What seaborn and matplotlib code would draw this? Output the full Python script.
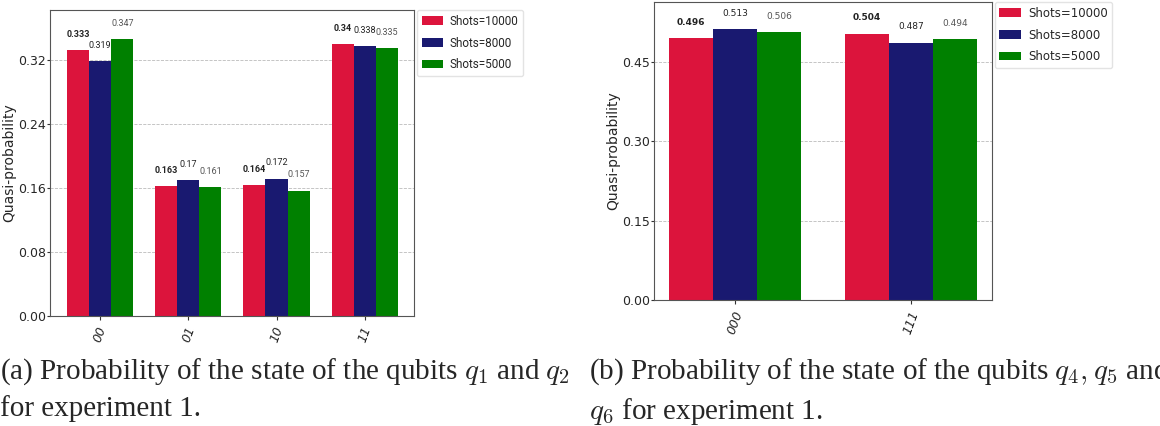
import numpy as np
import pandas as pd
import matplotlib
matplotlib.use("Agg")
import matplotlib.pyplot as plt
import seaborn as sns

# data
states_a = ["00", "01", "10", "11"]
states_b = ["000", "111"]
shots = ["Shots=10000", "Shots=8000", "Shots=5000"]
probs_a = {
    "Shots=10000": [0.333, 0.163, 0.164, 0.34],
    "Shots=8000": [0.319, 0.17, 0.172, 0.338],
    "Shots=5000": [0.347, 0.161, 0.157, 0.335],
}
probs_b = {
    "Shots=10000": [0.496, 0.504],
    "Shots=8000": [0.513, 0.487],
    "Shots=5000": [0.506, 0.494],
}
colors = ["#DC143C", "#191970", "#008000"]
yticks_a = [0.00, 0.08, 0.16, 0.24, 0.32]
yticks_b = [0.00, 0.15, 0.30, 0.45]
caption_a = "(a) Probability of the state of the qubits $q_1$ and $q_2$\nfor experiment 1."
caption_b = "(b) Probability of the state of the qubits $q_4, q_5$ and\n$q_6$ for experiment 1."

narrow = ["Roboto", "DejaVu Sans"]


def long_form(states, probs):
    rows = []
    for s in shots:
        for st, v in zip(states, probs[s]):
            rows.append({"state": st, "prob": v, "shots": s})
    return pd.DataFrame(rows)


sns.set_style("white")
plt.rcParams["font.family"] = ["DejaVu Sans"]
plt.rcParams["mathtext.fontset"] = "cm"

fig = plt.figure(figsize=(11.6, 4.26), dpi=100)
ax_a = fig.add_axes([0.0431, 0.2582, 0.3138, 0.7183])
ax_b = fig.add_axes([0.5638, 0.2958, 0.2914, 0.6995])


def draw(ax, states, probs, yticks, ylim, xlim, lab_font, lab_size, leg_font, leg_size):
    df = long_form(states, probs)
    sns.barplot(data=df, x="state", y="prob", hue="shots", hue_order=shots,
                palette=colors, saturation=1, width=0.75, ax=ax, errorbar=None,
                linewidth=0)
    for i, cont in enumerate(ax.containers):
        vals = probs[shots[i]]
        ax.bar_label(cont, labels=[f"{v:g}" for v in vals], padding=8,
                     fontsize=lab_size, family=lab_font,
                     fontweight="bold" if i == 0 else "normal",
                     color="#222222" if i < 2 else "#555555")
    ax.set_ylim(*ylim)
    ax.set_xlim(*xlim)
    ax.set_yticks(yticks)
    ax.set_yticklabels([f"{t:.2f}" for t in yticks], fontsize=9)
    ax.tick_params(axis="y", length=2, color="#333333", left=True, pad=1)
    ax.tick_params(axis="x", length=3, color="#333333", bottom=True)
    for lab in ax.get_xticklabels():
        lab.set_rotation(70)
        lab.set_style("italic")
        lab.set_fontsize(9)
    ax.set_xlabel("")
    ax.set_ylabel("Quasi-probability", fontsize=10, labelpad=1)
    ax.yaxis.grid(True, linestyle="--", color="#bbbbbb", linewidth=0.6)
    ax.set_axisbelow(True)
    for sp in ax.spines.values():
        sp.set_color("#555555")
        sp.set_linewidth(0.8)
    ax.legend(loc="upper left", bbox_to_anchor=(1.008, 1.0),
              prop={"family": leg_font, "size": leg_size},
              frameon=True, edgecolor="#dddddd", handlelength=1.8,
              handletextpad=0.6, borderaxespad=0.0, labelspacing=0.75)


draw(ax_a, states_a, probs_a, yticks_a, (0, 0.383), (-0.57, 3.56),
     narrow, 6.5, narrow, 8.5)
draw(ax_b, states_b, probs_b, yticks_b, (0, 0.5636), (-0.46, 1.46),
     ["DejaVu Sans"], 6.5, ["DejaVu Sans"], 8.5)

fig.text(0.0, 0.164, caption_a, fontsize=21, family="Liberation Serif",
         ha="left", va="top", linespacing=1.4)
fig.text(0.508, 0.164, caption_b, fontsize=21, family="Liberation Serif",
         ha="left", va="top", linespacing=1.4)

fig.savefig("out.png", dpi=100)
